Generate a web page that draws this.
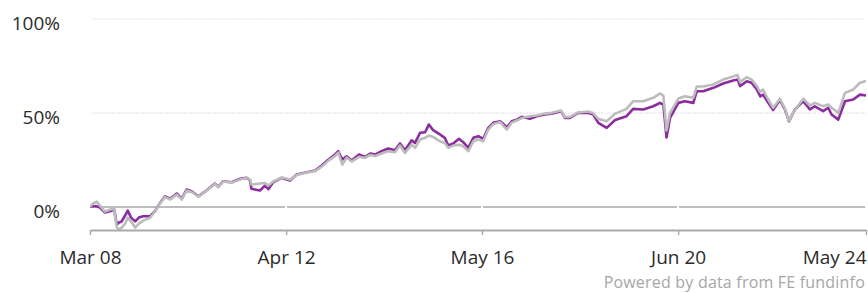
<!DOCTYPE html>
<html>
<head>
<meta charset="utf-8">
<script src="https://cdn.jsdelivr.net/npm/d3@7"></script>
<style>
  html, body { margin: 0; padding: 0; background: #fff; }
  svg { display: block; font-family: "Open Sans", Roboto, sans-serif; }
</style>
</head>
<body>
<svg id="chart"></svg>
<script>
const width = 868;
const height = 293;

// dates of the sampled points
const dates = [
  "2008-03-01","2008-03-23","2008-04-21","2008-05-16","2008-06-23","2008-08-13","2008-09-01","2008-09-21",
  "2008-10-08","2008-10-28","2008-11-23","2008-12-13","2009-01-08","2009-02-08","2009-03-08","2009-04-10",
  "2009-06-01","2009-07-08","2009-08-16","2009-09-23","2009-11-01","2009-12-21","2010-01-28","2010-03-06",
  "2010-04-13","2010-06-03","2010-08-06","2010-10-08","2010-11-01","2010-12-08","2011-02-13","2011-04-16",
  "2011-06-06","2011-07-01","2011-07-13","2011-09-16","2011-10-23","2011-11-18","2011-12-25","2012-02-28",
  "2012-05-01","2012-06-21","2012-09-06","2012-11-08","2012-12-28","2013-02-18","2013-04-08","2013-05-03",
  "2013-06-03","2013-07-06","2013-08-13","2013-10-08","2013-11-23","2014-01-01","2014-02-08","2014-03-28",
  "2014-05-18","2014-07-08","2014-08-16","2014-09-23","2014-11-13","2014-12-08","2015-01-16","2015-02-23",
  "2015-03-23","2015-04-25","2015-06-16","2015-07-23","2015-08-18","2015-09-25","2015-11-08","2015-12-10",
  "2016-01-18","2016-02-25","2016-04-03","2016-05-10","2016-06-18","2016-07-25","2016-09-16","2016-11-06",
  "2016-12-13","2017-01-21","2017-02-28","2017-05-01","2017-06-21","2017-08-23","2017-10-13","2017-12-23",
  "2018-01-23","2018-03-01","2018-05-03","2018-07-18","2018-08-25","2018-10-03","2018-12-06","2019-02-08",
  "2019-05-06","2019-06-25","2019-09-10","2019-11-25","2020-01-16","2020-02-10","2020-03-05","2020-04-01",
  "2020-06-03","2020-07-23","2020-09-25","2020-10-21","2020-12-10","2021-02-25","2021-05-10","2021-07-25",
  "2021-08-28","2021-09-16","2021-11-06","2021-12-13","2022-01-21","2022-02-16","2022-03-10","2022-04-18",
  "2022-05-25","2022-07-16","2022-08-23","2022-09-23","2022-11-08","2023-01-10","2023-03-01","2023-04-08",
  "2023-06-10","2023-07-18","2023-08-13","2023-10-03","2023-11-23","2024-01-25","2024-03-16","2024-05-01"
];

// fund (purple), cumulative % growth
const fund = [
  0, 0.5, 0.4, -0.3, -2.9, -1.9, -1.3, -9.3,
  -8.2, -7.6, -4.5, -1.9, -5.6, -7.6, -5.6, -4.9,
  -4.9, -2.2, 2.2, 5.7, 4.4, 7.2, 4.4, 9.3,
  8.4, 5.7, 8.9, 12.5, 10.7, 13.7, 13.2, 15.0,
  15.5, 14.3, 9.7, 8.8, 11.4, 9.5, 13.2, 15.5,
  14.1, 17.3, 18.5, 19.4, 22.1, 25.3, 27.9, 29.7,
  25.3, 27.0, 24.7, 27.9, 26.7, 28.5, 27.9, 29.7,
  31.1, 30.2, 33.8, 30.2, 35.5, 34.1, 39.5, 39.8,
  43.9, 40.9, 38.6, 36.8, 32.7, 33.8, 36.3, 34.5,
  31.5, 36.8, 37.7, 36.3, 42.1, 44.8, 45.6, 42.4,
  45.6, 46.5, 48.0, 46.9, 48.3, 49.2, 49.6, 51.0,
  47.4, 47.4, 50.1, 50.1, 49.2, 44.8, 42.1, 46.3,
  48.3, 52.2, 51.9, 53.6, 55.4, 54.5, 37.0, 47.4,
  55.4, 56.3, 55.4, 61.6, 61.6, 63.4, 65.7, 67.3,
  67.8, 64.3, 66.9, 66.1, 62.5, 58.9, 59.8, 55.4,
  51.6, 56.9, 51.9, 45.6, 51.9, 56.3, 51.9, 53.6,
  51.0, 52.8, 49.2, 46.5, 56.3, 57.2, 59.8, 59.3
];

// sector average (grey), cumulative % growth
const sector = [
  0, 1.9, 2.8, 0.8, -2.4, -1.0, -1.3, -10.9,
  -12.0, -10.9, -8.8, -5.6, -7.7, -10.9, -8.8, -7.2,
  -5.7, -2.4, 1.9, 5.3, 4.0, 6.6, 4.0, 8.8,
  8.0, 5.6, 8.8, 12.2, 10.6, 13.6, 13.0, 14.6,
  15.4, 14.6, 12.0, 12.5, 12.8, 11.4, 13.6, 15.7,
  14.6, 17.0, 18.4, 19.1, 21.5, 24.7, 27.1, 29.0,
  22.6, 26.3, 24.2, 26.7, 26.1, 27.7, 27.1, 28.5,
  29.7, 29.1, 32.7, 28.8, 33.2, 31.5, 35.9, 36.8,
  38.0, 37.3, 35.0, 34.1, 31.5, 32.7, 33.2, 32.3,
  29.7, 35.0, 35.9, 35.0, 41.2, 44.1, 45.2, 41.2,
  44.9, 46.0, 47.3, 48.3, 48.7, 49.7, 50.1, 51.3,
  47.9, 47.9, 50.3, 50.8, 50.0, 46.9, 45.6, 49.7,
  52.2, 56.3, 56.3, 58.1, 60.4, 59.3, 40.7, 50.1,
  57.7, 58.9, 58.1, 64.1, 64.1, 65.2, 67.8, 69.4,
  70.2, 66.5, 69.1, 67.8, 64.3, 61.2, 62.5, 57.2,
  52.7, 57.6, 52.4, 45.6, 51.9, 57.6, 54.0, 55.4,
  53.6, 54.5, 52.8, 50.1, 60.7, 62.5, 66.1, 67.0
];

const tickDates = ["2008-03-01", "2012-04-01", "2016-05-01", "2020-06-01", "2024-05-01"];
const yTicks = [0, 50, 100];

const parse = d3.timeParse("%Y-%m-%d");
const fmt = d3.timeFormat("%b %y");

const x0 = 90, x1 = 866;

const x = d3
  .scaleTime()
  .domain([parse("2008-03-01"), parse("2024-05-01")])
  .range([x0, x1]);

const y = d3
  .scaleLinear()
  .domain([-12.2, 100])
  .range([230, 19]);

const svg = d3
  .select("#chart")
  .attr("width", width)
  .attr("height", height);

// grid lines
yTicks
  .filter((d) => d !== 0)
  .forEach((t) => {
    svg
      .append("line")
      .attr("x1", x0 + 1)
      .attr("x2", x1)
      .attr("y1", y(t))
      .attr("y2", y(t))
      .attr("stroke", "#ebe1ee")
      .attr("stroke-width", 1.2)
      .attr("stroke-dasharray", "2,1");
  });

// zero line, broken at each tick
const tickX = tickDates.map((d) => x(parse(d)));
for (let i = 0; i < tickX.length - 1; i++) {
  svg
    .append("line")
    .attr("x1", tickX[i] + 1)
    .attr("x2", tickX[i + 1] - 1)
    .attr("y1", y(0))
    .attr("y2", y(0))
    .attr("stroke", "#bdbdbd")
    .attr("stroke-width", 2);
}

// y labels
svg
  .selectAll(".ylab")
  .data(yTicks)
  .enter()
  .append("text")
  .attr("class", "ylab")
  .attr("x", 60)
  .attr("y", (d) => y(d) + 4)
  .attr("text-anchor", "end")
  .attr("dominant-baseline", "central")
  .attr("fill", "#2b2b2b")
  .attr("font-size", "19px")
  .text((d) => d + "%");

// lines
svg
  .append("clipPath")
  .attr("id", "clip")
  .append("rect")
  .attr("x", x0)
  .attr("y", 0)
  .attr("width", x1 - x0)
  .attr("height", 230);

const rows = dates.map((d, i) => ({ date: parse(d), fund: fund[i], sector: sector[i] }));

const lineFor = (key) =>
  d3
    .line()
    .x((d) => x(d.date))
    .y((d) => y(d[key]));

const plot = svg.append("g").attr("clip-path", "url(#clip)");

plot
  .append("path")
  .datum(rows)
  .attr("fill", "none")
  .attr("stroke", "#8b2c9f")
  .attr("stroke-width", 2.6)
  .attr("stroke-linejoin", "round")
  .attr("d", lineFor("fund"));

plot
  .append("path")
  .datum(rows)
  .attr("fill", "none")
  .attr("stroke", "#bcbcbc")
  .attr("stroke-width", 2.6)
  .attr("stroke-linejoin", "round")
  .attr("d", lineFor("sector"));

// x axis
const xAxis = d3
  .axisBottom(x)
  .tickValues(tickDates.map(parse))
  .tickFormat(fmt)
  .tickSize(5)
  .tickSizeOuter(0);

const gx = svg
  .append("g")
  .attr("transform", "translate(0,230)")
  .call(xAxis);

gx.select(".domain").attr("stroke", "#aaa").attr("stroke-width", 2);
gx.selectAll(".tick line").attr("stroke", "#aaa").attr("stroke-width", 1.5);
gx.selectAll(".tick text")
  .attr("font-family", "'Open Sans', sans-serif")
  .attr("font-size", "19px")
  .attr("fill", "#2b2b2b")
  .attr("y", 21)
  .attr("dy", "0.71em")
  .attr("text-anchor", (d, i, n) => (i === n.length - 1 ? "end" : "middle"));

// source note
svg
  .append("text")
  .attr("x", 865)
  .attr("y", 288)
  .attr("text-anchor", "end")
  .attr("font-size", "16px")
  .attr("fill", "#a6a6a6")
  .attr("letter-spacing", "0.2px")
  .text("Powered by data from FE fundinfo");
</script>
</body>
</html>
